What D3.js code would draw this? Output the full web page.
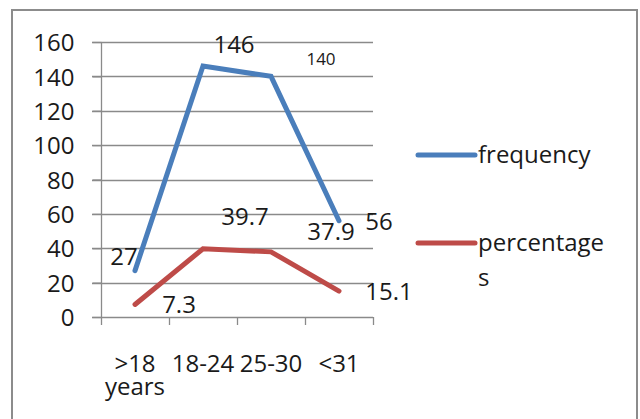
<!DOCTYPE html>
<html>
<head>
<meta charset="utf-8">
<script src="https://cdn.jsdelivr.net/npm/d3@7"></script>
<style>
  html, body { margin: 0; padding: 0; background: #fff; }
  svg { display: block; }
  text { font-family: "Open Sans", "Noto Sans", sans-serif; fill: #1a1a1a; }
</style>
</head>
<body>
<svg id="chart" width="640" height="419"></svg>
<script>
// Age groups and their counts / shares
const categories = [">18 years", "18-24", "25-30", "<31"];
const frequency = [27, 146, 140, 56];
const percentages = [7.3, 39.7, 37.9, 15.1];
const yTicks = [0, 20, 40, 60, 80, 100, 120, 140, 160];
const seriesNames = ["frequency", "percentages"];

// Where each data label sits relative to its point (dx, dy to baseline centre)
const freqLabelStyle = [
  { dx: -11, dy: -6, size: 24 },
  { dx: 31, dy: -13, size: 24 },
  { dx: 50, dy: -11, size: 17 },
  { dx: 40, dy: 9, size: 24 }
];
const pctLabelStyle = [
  { dx: 44, dy: 9, size: 24 },
  { dx: 42, dy: -24, size: 24 },
  { dx: 60, dy: -12, size: 24 },
  { dx: 50, dy: 9, size: 24 }
];

const colors = { frequency: "#4a7ebb", percentages: "#be4b48" };
const gridColor = "#8a8a8a";

const svg = d3.select("#chart");

// Outer chart frame
svg.append("rect")
  .attr("x", 12).attr("y", 10)
  .attr("width", 625).attr("height", 430)
  .attr("fill", "none")
  .attr("stroke", "#8c8c8c")
  .attr("stroke-width", 2);

const plot = { left: 101, right: 373, top: 42, bottom: 317 };

const x = d3.scaleBand().domain(categories).range([plot.left, plot.right]);
const y = d3.scaleLinear().domain([0, 160]).range([plot.bottom, plot.top]);

// Horizontal gridlines
svg.append("g").selectAll("line")
  .data(yTicks)
  .join("line")
  .attr("x1", plot.left - 9).attr("x2", plot.right)
  .attr("y1", d => Math.round(y(d)) + 0.5).attr("y2", d => Math.round(y(d)) + 0.5)
  .attr("stroke", gridColor).attr("stroke-width", 1.3);

// Y axis
const yAxis = svg.append("g")
  .attr("transform", `translate(${plot.left + 0.5},0)`)
  .call(d3.axisLeft(y).tickValues(yTicks).tickSize(9).tickPadding(18).tickFormat(d3.format("d")));
yAxis.select(".domain").attr("stroke", gridColor).attr("stroke-width", 1.3)
  .attr("d", `M0,${plot.top}V${plot.bottom}`);
yAxis.selectAll(".tick line").attr("stroke", gridColor).attr("stroke-width", 1.3);
yAxis.selectAll(".tick text")
  .style("font-family", '"Open Sans", sans-serif')
  .attr("font-size", 24)
  .attr("fill", "#1a1a1a")
  .attr("dy", "0.36em");

// X axis: tick marks at category boundaries
const boundaries = categories.map(c => x(c)).concat([x.range()[1]]);
svg.append("g").selectAll("line")
  .data(boundaries)
  .join("line")
  .attr("x1", d => Math.round(d) + 0.5).attr("x2", d => Math.round(d) + 0.5)
  .attr("y1", plot.bottom).attr("y2", plot.bottom + 8)
  .attr("stroke", gridColor).attr("stroke-width", 1.3);

// Category labels, wrapped to the band width
const catG = svg.append("g");
categories.forEach(c => {
  const t = catG.append("text")
    .attr("text-anchor", "middle")
    .attr("font-size", 24);
  const cx = x(c) + x.bandwidth() / 2;
  const words = c.split(" ");
  const lines = [];
  let cur = [];
  words.forEach(w => {
    const test = cur.concat([w]).join(" ");
    if (cur.length && test.length > 5) { lines.push(cur.join(" ")); cur = [w]; }
    else cur.push(w);
  });
  lines.push(cur.join(" "));
  lines.forEach((ln, i) => {
    t.append("tspan").attr("x", cx).attr("y", 372 + i * 23).text(ln);
  });
});

// Lines
const line = d3.line()
  .x((d, i) => x(categories[i]) + x.bandwidth() / 2)
  .y(d => y(d));

[["frequency", frequency], ["percentages", percentages]].forEach(([name, vals]) => {
  svg.append("path")
    .datum(vals)
    .attr("d", line)
    .attr("fill", "none")
    .attr("stroke", colors[name])
    .attr("stroke-width", 5)
    .attr("stroke-linejoin", "miter")
    .attr("stroke-linecap", "round");
});

// Data labels
function drawLabels(vals, styles) {
  svg.append("g").selectAll("text")
    .data(vals)
    .join("text")
    .attr("text-anchor", "middle")
    .attr("x", (d, i) => x(categories[i]) + x.bandwidth() / 2 + styles[i].dx)
    .attr("y", (d, i) => y(d) + styles[i].dy)
    .attr("font-size", (d, i) => styles[i].size)
    .text(d => d);
}
drawLabels(frequency, freqLabelStyle);
drawLabels(percentages, pctLabelStyle);

// Legend
const legendRows = [
  { name: seriesNames[0], lines: ["frequency"], y: 155 },
  { name: seriesNames[1], lines: ["percentage", "s"], y: 243 }
];
legendRows.forEach(r => {
  svg.append("line")
    .attr("x1", 418).attr("x2", 475)
    .attr("y1", r.y).attr("y2", r.y)
    .attr("stroke", colors[r.name])
    .attr("stroke-width", 5)
    .attr("stroke-linecap", "round");
  const t = svg.append("text").attr("font-size", 24);
  r.lines.forEach((ln, i) => {
    t.append("tspan").attr("x", 478).attr("y", r.y + 8 + i * 35).text(ln);
  });
});
</script>
</body>
</html>
